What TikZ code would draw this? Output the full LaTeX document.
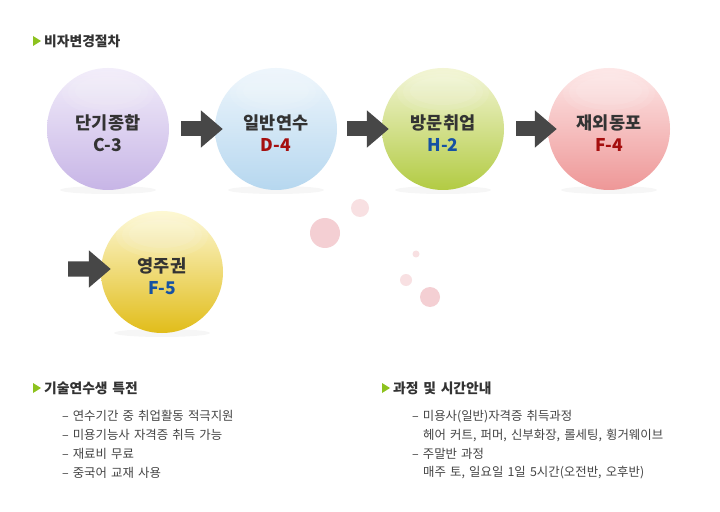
\documentclass[tikz,border=0pt]{standalone}
\usepackage{fontspec}
\setmainfont[WordSpace=1.5]{Noto Sans CJK KR}
\usetikzlibrary{arrows.meta}
\definecolor{titlegray}{HTML}{333333}
\definecolor{listgray}{HTML}{444444}
\definecolor{bullet}{HTML}{8DC21F}
\definecolor{arrowgray}{HTML}{474747}
\definecolor{dot}{HTML}{F4CFD3}
\definecolor{dotlight}{HTML}{F8E0E2}
\definecolor{codered}{HTML}{A50F0F}
\definecolor{codeblue}{HTML}{1652A3}
\definecolor{codegray}{HTML}{333333}
\definecolor{lavtop}{HTML}{F2EDFA}\definecolor{lavbot}{HTML}{C7B5E6}
\definecolor{bluetop}{HTML}{EEF6FC}\definecolor{bluebot}{HTML}{B6D7EF}
\definecolor{greentop}{HTML}{F3F5D5}\definecolor{greenbot}{HTML}{B2CB43}
\definecolor{pinktop}{HTML}{FDE7E7}\definecolor{pinkbot}{HTML}{EE9797}
\definecolor{yeltop}{HTML}{FDF8D4}\definecolor{yelbot}{HTML}{E1BD1A}
\tikzset{
  ball/.style 2 args={circle, minimum size=122bp, inner sep=0pt,
    top color=#1, bottom color=#2, draw=none},
  balltext/.style={align=center, font=\fontsize{17.5bp}{22bp}\selectfont\bfseries,
    text=codegray, inner sep=0pt},
  blockarrow/.style={draw=arrowgray, line width=15bp,
    -{Triangle[length=22bp,width=36bp]}, arrowgray},
  headtext/.style={anchor=west, inner sep=0pt, text=titlegray,
    font=\fontsize{13.8bp}{16bp}\selectfont\bfseries},
  listtext/.style={anchor=west, inner sep=0pt, text=listgray,
    font=\fontsize{12.4bp}{15bp}\selectfont},
  decodot/.style={fill=dot, draw=none},
  gloss/.style={fill=white, opacity=0.09, draw=none},
  shadowell/.style={fill=black, opacity=0.035, draw=none}
}
\begin{document}
\begin{tikzpicture}[x=1bp,y=-1bp]
\useasboundingbox (0,0) rectangle (720,512);
\fill[white] (0,0) rectangle (720,512);

% title
\fill[bullet] (33,36) -- (41,41) -- (33,46) -- cycle;
\node[headtext] (title) at (44,41) {비자변경절차};

% decorative dots
\fill[decodot] (325,233) circle (15);
\fill[dotlight] (360,208) circle (9);
\fill[dotlight] (416,254) circle (3.5);
\fill[dotlight] (406,280) circle (6);
\fill[decodot] (430,297) circle (10);

% shadows
\foreach \cx/\cy in {108/129, 276/129, 443/129, 609/129, 162/272}
  \fill[shadowell] (\cx,\cy+61) ellipse (48 and 4);

% circles
\node[ball={lavtop}{lavbot}] (c1) at (108,129) {};
\node[ball={bluetop}{bluebot}] (c2) at (276,129) {};
\node[ball={greentop}{greenbot}] (c3) at (443,129) {};
\node[ball={pinktop}{pinkbot}] (c4) at (609,129) {};
\node[ball={yeltop}{yelbot}] (c5) at (162,272) {};

% soft gloss highlights
\foreach \c in {c1,c2,c3,c4,c5} {
  \fill[gloss] ([yshift=36bp]\c.center) ellipse (46 and 22);
  \fill[gloss] ([yshift=37bp]\c.center) ellipse (40 and 18);
  \fill[gloss] ([yshift=38bp]\c.center) ellipse (33 and 14);
}

% labels
\node[balltext] (t1) at ([yshift=-4bp]c1.center) {단기종합\\C-3};
\node[balltext] (t2) at ([yshift=-4bp]c2.center) {일반연수\\\textcolor{codered}{D-4}};
\node[balltext] (t3) at ([yshift=-4bp]c3.center) {방문취업\\\textcolor{codeblue}{H-2}};
\node[balltext] (t4) at ([yshift=-4bp]c4.center) {재외동포\\\textcolor{codered}{F-4}};
\node[balltext] (t5) at ([yshift=-4bp]c5.center) {영주권\\\textcolor{codeblue}{F-5}};

% arrows
\draw[blockarrow] ([xshift=12bp]c1.east) -- ([xshift=8bp]c2.west);
\draw[blockarrow] ([xshift=10bp]c2.east) -- ([xshift=7bp]c3.west);
\draw[blockarrow] ([xshift=12bp]c3.east) -- ([xshift=9bp]c4.west);
\coordinate (a5) at (68,269);
\draw[blockarrow] (a5) -- ([xshift=10bp,yshift=3bp]c5.west);

% left section
\fill[bullet] (33,383) -- (41,388) -- (33,393) -- cycle;
\node[headtext] (h1) at (44,388) {기술연수생 특전};
\node[listtext] (l1) at (62,416) {–\hspace{4bp}연수기간 중 취업활동 적극지원};
\node[listtext] (l2) at (62,435) {–\hspace{4bp}미용기능사 자격증 취득 가능};
\node[listtext] (l3) at (62,454) {–\hspace{4bp}재료비 무료};
\node[listtext] (l4) at (62,473) {–\hspace{4bp}중국어 교재 사용};

% right section
\fill[bullet] (382,383) -- (390,388) -- (382,393) -- cycle;
\node[headtext] (h2) at (393,388) {과정 및 시간안내};
\node[listtext] (r1) at (412,417) {–\hspace{4bp}미용사(일반)자격증 취득과정};
\node[listtext] (r2) at (423,436) {헤어 커트, 퍼머, 신부화장, 롤세팅, 휭거웨이브};
\node[listtext] (r3) at (412,454) {–\hspace{4bp}주말반 과정};
\node[listtext] (r4) at (423,473) {매주 토, 일요일 1일 5시간(오전반, 오후반)};
\end{tikzpicture}
\end{document}
